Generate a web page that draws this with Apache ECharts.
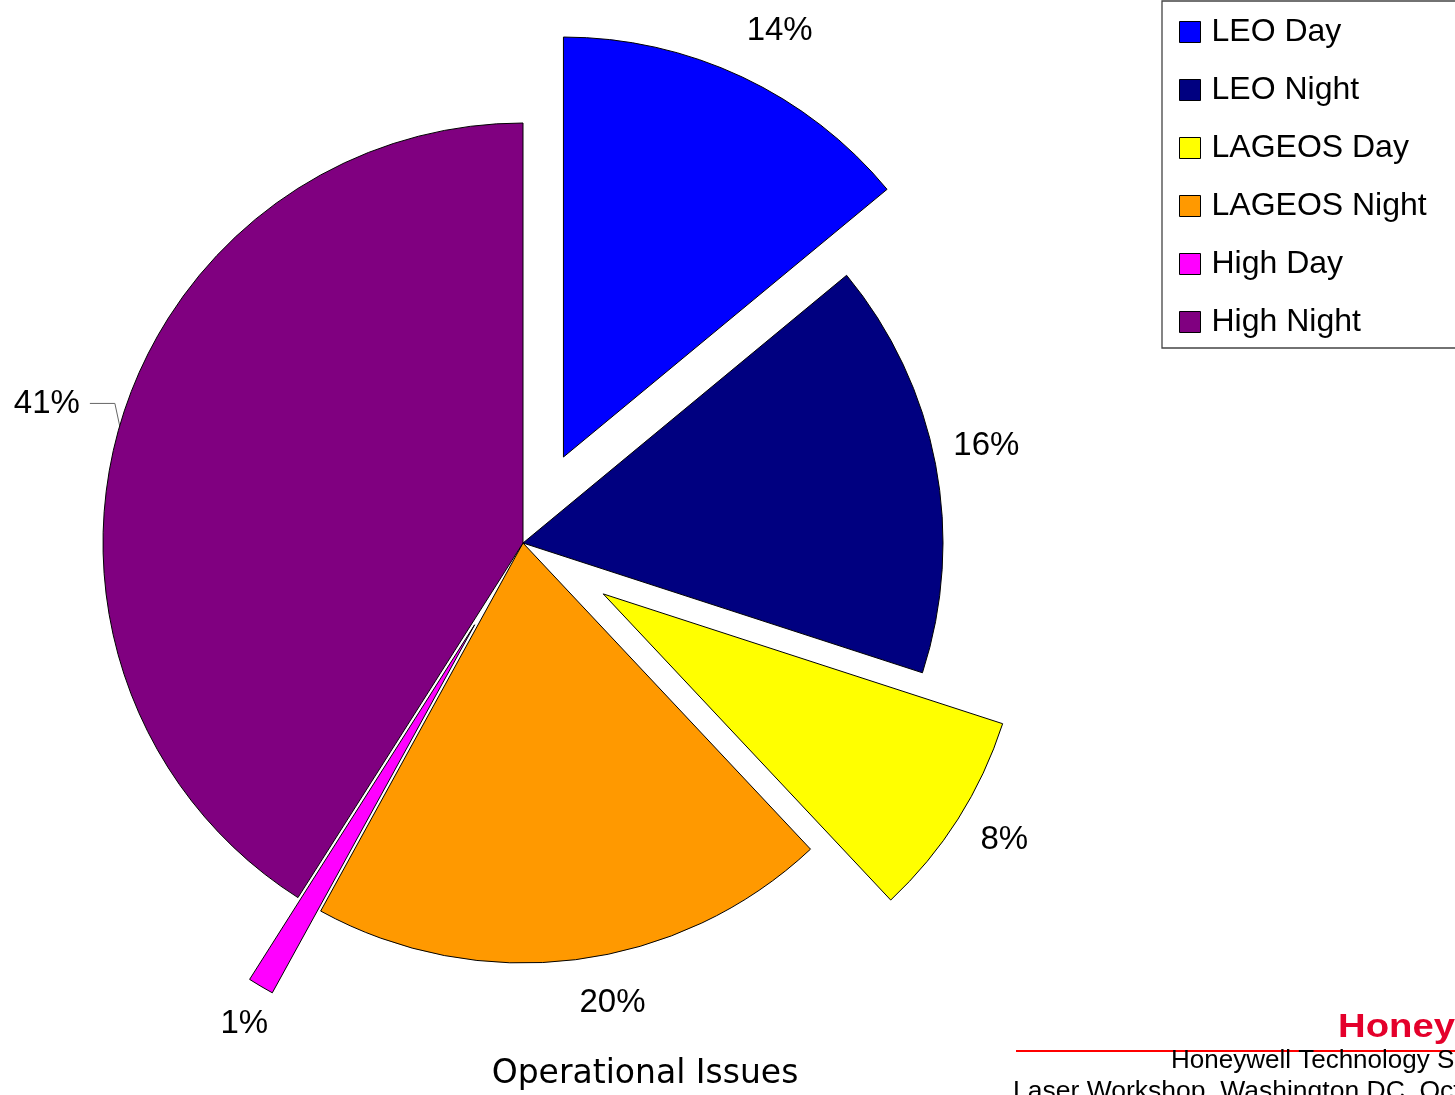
<!DOCTYPE html>
<html>
<head>
<meta charset="utf-8">
<script src="https://cdn.jsdelivr.net/npm/echarts@6/dist/echarts.min.js"></script>
<style>
  html, body { margin: 0; padding: 0; background: #ffffff; }
  #chart { width: 1455px; height: 1095px; }
</style>
</head>
<body>
<div id="chart"></div>
<script>
// Share of operational issues per orbit class and lighting condition (percent)
const categories = ['LEO Day', 'LEO Night', 'LAGEOS Day', 'LAGEOS Night', 'High Day', 'High Night'];
const shares = [14, 16, 8, 20, 1, 41];
// Slices pulled away from the centre
const pulledOut = [true, false, true, false, true, false];
const sliceColors = ['#0000FF', '#000080', '#FFFF00', '#FF9900', '#FF00FF', '#800080'];
// Fine shifts of the percentage labels from their default outside spot
const labelNudge = [[-17, -33], [-12, -16], [-5, 13], [-13, 28], [30, 25], [0, -21]];

const FONT = '"Liberation Sans", Arial, sans-serif';

const pieData = categories.map(function (name, i) {
  const item = {
    name: name,
    value: shares[i],
    selected: pulledOut[i],
    itemStyle: { color: sliceColors[i] }
  };
  if (name === 'High Night') {
    item.labelLine = { show: true, length: 5, length2: 25 };
    item.label = { distanceToLabelLine: 10 };
  }
  return item;
});

const chart = echarts.init(document.getElementById('chart'), null, { renderer: 'canvas' });

chart.setOption({
  animation: false,
  backgroundColor: '#ffffff',
  legend: {
    orient: 'vertical',
    left: 1162,
    top: 1,
    data: categories,
    icon: 'rect',
    itemWidth: 21,
    itemHeight: 21,
    itemGap: 26,
    padding: [15, 50, 10, 17],
    backgroundColor: '#ffffff',
    borderColor: '#444444',
    borderWidth: 1.3,
    selectedMode: false,
    itemStyle: { borderColor: '#000000', borderWidth: 1 },
    textStyle: { fontSize: 32, color: '#000000', fontFamily: FONT, padding: [0, 0, 0, 6] }
  },
  series: [{
    type: 'pie',
    center: [523, 543],
    radius: 420,
    startAngle: 90,
    clockwise: true,
    selectedMode: 'multiple',
    selectedOffset: 95,
    avoidLabelOverlap: false,
    emphasis: { disabled: true },
    itemStyle: { borderColor: '#000000', borderWidth: 1 },
    label: {
      show: true,
      position: 'outside',
      formatter: '{c}%',
      fontSize: 33,
      color: '#000000',
      fontFamily: FONT,
      distanceToLabelLine: 5
    },
    labelLine: {
      show: false,
      length: 15,
      length2: 10,
      lineStyle: { color: '#666666', width: 1 }
    },
    labelLayout: function (p) {
      const n = labelNudge[p.dataIndex];
      const out = { dx: n[0], dy: n[1] };
      if (categories[p.dataIndex] === 'High Night' && p.labelLinePoints) {
        const pts = p.labelLinePoints;
        out.labelLinePoints = [
          pts[0],
          [pts[1][0], pts[1][1] + n[1]],
          [pts[2][0], pts[2][1] + n[1]]
        ];
      }
      return out;
    },
    data: pieData
  }],
  graphic: [
    {
      type: 'text', x: 645, y: 1074,
      style: { text: 'Operational Issues', font: '33px "DejaVu Sans", sans-serif', fill: '#000000', align: 'center', verticalAlign: 'middle' }
    },
    {
      type: 'text', x: 1338, y: 1028, scaleX: 1.16,
      style: { text: 'Honeywell', font: 'bold 33px ' + FONT, fill: '#E4002B', align: 'left', verticalAlign: 'middle' }
    },
    {
      type: 'line', shape: { x1: 1016, y1: 1051, x2: 1455, y2: 1051 },
      style: { stroke: '#FF0000', lineWidth: 2 }
    },
    {
      type: 'text', x: 1171, y: 1061,
      style: { text: 'Honeywell Technology Solutions Inc.', font: '26px ' + FONT, fill: '#000000', align: 'left', verticalAlign: 'middle' }
    },
    {
      type: 'text', x: 1013, y: 1092,
      style: { text: 'Laser Workshop, Washington DC, October 2002', font: '26.5px ' + FONT, fill: '#000000', align: 'left', verticalAlign: 'middle' }
    }
  ]
});
</script>
</body>
</html>
